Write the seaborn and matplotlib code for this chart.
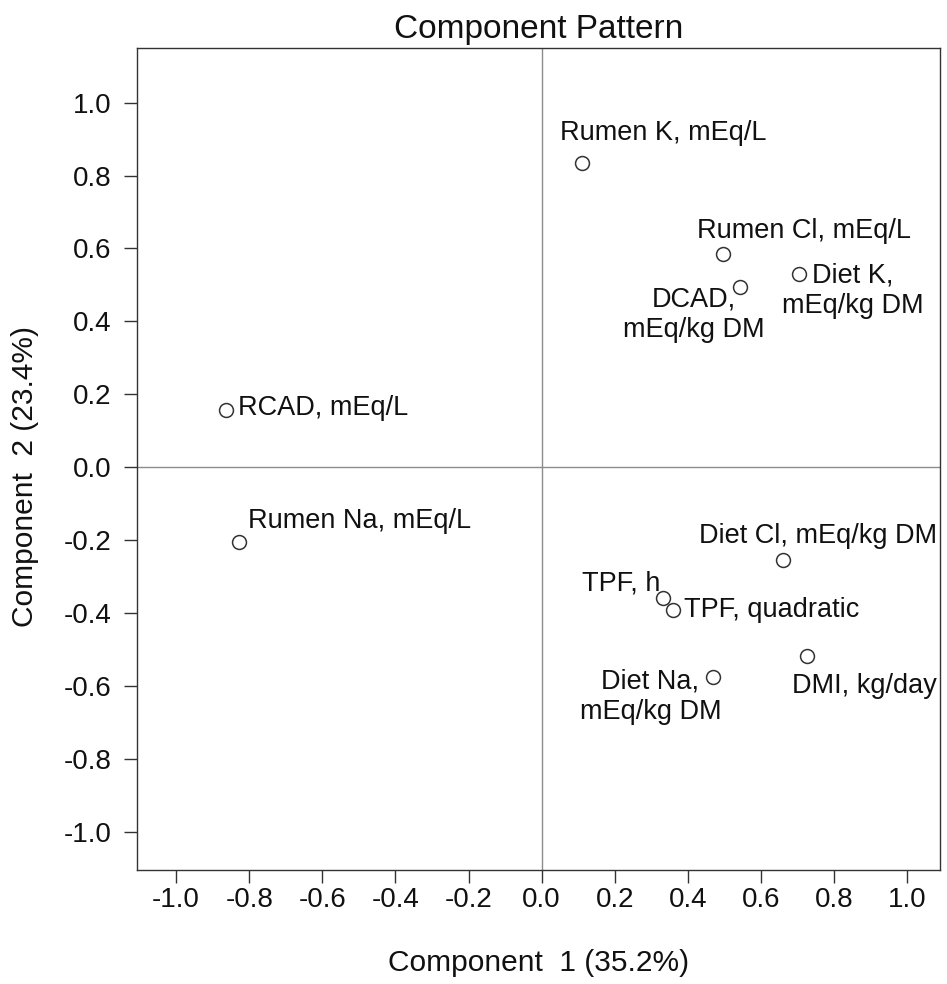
import matplotlib
matplotlib.use("Agg")
import matplotlib.pyplot as plt
import seaborn as sns
import pandas as pd

variables = ["Rumen K, mEq/L", "Rumen Cl, mEq/L", "DCAD,\nmEq/kg DM", "Diet K,\nmEq/kg DM",
             "RCAD, mEq/L", "Rumen Na, mEq/L", "Diet Cl, mEq/kg DM", "TPF, h",
             "TPF, quadratic", "DMI, kg/day", "Diet Na,\nmEq/kg DM"]
comp1 = [0.110, 0.497, 0.543, 0.705, -0.863, -0.827, 0.660, 0.332, 0.359, 0.726, 0.470]
comp2 = [0.835, 0.584, 0.495, 0.531, 0.158, -0.205, -0.255, -0.360, -0.392, -0.518, -0.575]
ticks = [-1.0, -0.8, -0.6, -0.4, -0.2, 0.0, 0.2, 0.4, 0.6, 0.8, 1.0]
tick_labels = ["-1.0", "-0.8", "-0.6", "-0.4", "-0.2", "0.0", "0.2", "0.4", "0.6", "0.8", "1.0"]

# label placement (offset in pixels, alignment)
label_style = {
    "Rumen K, mEq/L": ((-22, 30), "left"),
    "Rumen Cl, mEq/L": ((-26, 23), "left"),
    "DCAD,\nmEq/kg DM": ((-46, -28), "center"),
    "Diet K,\nmEq/kg DM": ((53, -17), "center"),
    "RCAD, mEq/L": ((12, 2), "left"),
    "Rumen Na, mEq/L": ((9, 21), "left"),
    "Diet Cl, mEq/kg DM": ((35, 24), "center"),
    "TPF, h": ((-3, 15), "right"),
    "TPF, quadratic": ((11, 0), "left"),
    "DMI, kg/day": ((57, -30), "center"),
    "Diet Na,\nmEq/kg DM": ((-63, -20), "center"),
}

df = pd.DataFrame({"variable": variables, "comp1": comp1, "comp2": comp2})

sns.set_style("ticks")
plt.rcParams["font.family"] = ["Liberation Sans", "DejaVu Sans"]

fig = plt.figure(figsize=(9.47, 9.84), dpi=100)
ax = fig.add_axes([0.1447, 0.1159, 0.848, 0.8354])

ax.axhline(0, color="#8c8c8c", lw=1.0, zorder=1)
ax.axvline(0, color="#8c8c8c", lw=1.0, zorder=1)

sns.scatterplot(data=df, x="comp1", y="comp2", ax=ax, marker="o", s=100,
                facecolor="white", edgecolor="#333333", linewidth=1.1, zorder=3)

for name, x, y in zip(variables, comp1, comp2):
    (dx, dy), ha = label_style[name]
    ax.annotate(name, (x, y), xytext=(dx, dy), textcoords="offset pixels",
                ha=ha, va="center", multialignment="center", fontsize=19.5,
                color="#111111", linespacing=1.2)

ax.set_xlim(-1.107, 1.09)
ax.set_ylim(-1.105, 1.15)
ax.set_xticks(ticks)
ax.set_xticklabels(tick_labels)
ax.set_yticks(ticks)
ax.set_yticklabels(tick_labels)
ax.tick_params(axis="both", direction="out", length=9.5, width=1.0, color="#333333",
               labelsize=20, labelcolor="#111111")
ax.tick_params(axis="x", pad=3)
ax.tick_params(axis="y", pad=9)
for sp in ax.spines.values():
    sp.set_visible(True)
    sp.set_color("#333333")
    sp.set_linewidth(1.0)

ax.set_xlabel("Component  1 (35.2%)", fontsize=21.5, color="#111111", labelpad=26)
ax.set_ylabel("Component  2 (23.4%)", fontsize=21.5, color="#111111")
ax.yaxis.set_label_coords(-0.122, 0.479)
ax.set_title("Component Pattern", fontsize=24, color="#111111", pad=7)

fig.savefig("out.png", dpi=100)
